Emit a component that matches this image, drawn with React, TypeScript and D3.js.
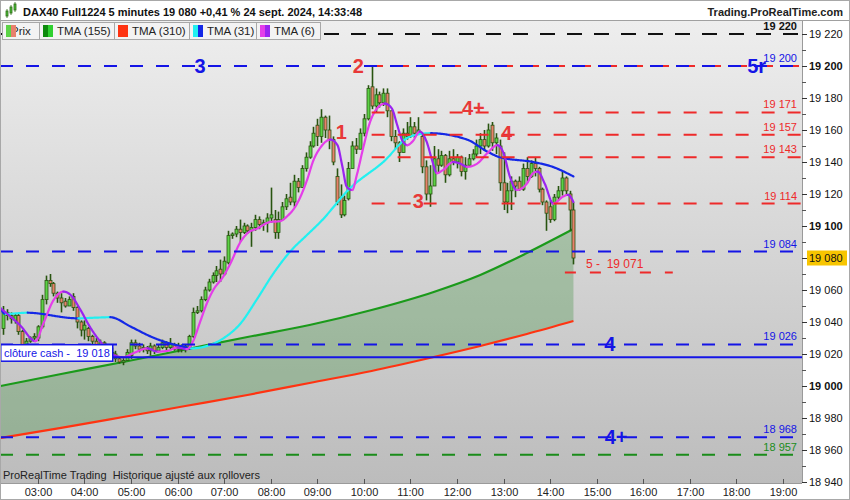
import { useRef, useEffect } from "react";
import * as d3 from "d3";

const day = "2024-09-24";
const firstBar = "02:15";
const barMinutes = 5;

// 5 minute bars: [open, high, low, close]
const bars: [number, number, number, number][] = [
  [19036, 19050, 19032, 19046], [19046, 19048, 19041, 19044], [19044, 19046, 19039, 19042], [19041, 19045, 19039, 19044],
  [19044, 19045, 19032, 19034], [19034, 19035, 19020, 19026], [19026, 19030, 19022, 19028], [19028, 19031, 19027, 19030],
  [19030, 19033, 19028, 19031], [19030, 19038, 19028, 19037], [19037, 19057, 19036, 19054], [19054, 19069, 19051, 19066],
  [19066, 19070, 19062, 19064], [19064, 19065, 19056, 19058], [19058, 19059, 19052, 19055], [19055, 19058, 19046, 19052],
  [19053, 19055, 19049, 19050], [19050, 19056, 19050, 19054], [19056, 19058, 19047, 19049], [19049, 19050, 19036, 19040],
  [19040, 19041, 19031, 19035], [19035, 19041, 19029, 19038], [19036, 19037, 19028, 19031], [19031, 19032, 19026, 19028],
  [19028, 19030, 19024, 19026], [19026, 19029, 19023, 19027], [19027, 19028, 19022, 19024], [19024, 19026, 19019, 19021],
  [19021, 19024, 19018, 19020], [19020, 19022, 19015, 19017], [19017, 19018, 19014, 19015], [19015, 19018, 19013, 19016],
  [19016, 19023, 19016, 19021], [19019, 19029, 19017, 19027], [19027, 19029, 19023, 19025], [19025, 19027, 19021, 19023],
  [19023, 19026, 19021, 19024], [19024, 19025, 19020, 19022], [19022, 19027, 19019, 19025], [19025, 19026, 19020, 19022],
  [19022, 19026, 19021, 19024], [19024, 19029, 19023, 19027], [19027, 19028, 19022, 19024], [19024, 19030, 19023, 19026],
  [19026, 19027, 19022, 19023], [19023, 19027, 19021, 19025], [19025, 19026, 19021, 19023], [19023, 19026, 19021, 19025],
  [19024, 19032, 19023, 19031], [19031, 19049, 19030, 19046], [19046, 19050, 19045, 19047], [19047, 19056, 19046, 19054],
  [19054, 19062, 19053, 19060], [19060, 19067, 19059, 19065], [19065, 19071, 19064, 19069], [19069, 19075, 19065, 19072],
  [19073, 19079, 19065, 19070], [19070, 19081, 19069, 19078], [19077, 19097, 19076, 19094], [19094, 19096, 19092, 19095],
  [19095, 19100, 19093, 19098], [19098, 19104, 19090, 19096], [19096, 19102, 19095, 19100], [19100, 19101, 19095, 19097],
  [19097, 19102, 19087, 19099], [19099, 19107, 19097, 19104], [19104, 19106, 19098, 19101], [19101, 19104, 19097, 19102],
  [19102, 19108, 19096, 19105], [19105, 19124, 19102, 19107], [19104, 19110, 19092, 19096], [19096, 19109, 19092, 19104],
  [19104, 19115, 19104, 19112], [19112, 19120, 19110, 19117], [19118, 19127, 19113, 19115], [19115, 19132, 19112, 19128],
  [19128, 19130, 19121, 19124], [19124, 19138, 19124, 19136], [19136, 19146, 19134, 19143], [19143, 19153, 19142, 19150],
  [19150, 19162, 19149, 19158], [19163, 19167, 19150, 19156], [19156, 19173, 19152, 19168], [19168, 19169, 19155, 19160],
  [19160, 19169, 19148, 19154], [19154, 19156, 19138, 19140], [19131, 19136, 19113, 19115], [19118, 19126, 19105, 19107],
  [19107, 19119, 19106, 19116], [19117, 19140, 19116, 19136], [19136, 19153, 19136, 19150], [19150, 19155, 19145, 19148],
  [19148, 19161, 19148, 19158], [19158, 19170, 19156, 19167], [19167, 19188, 19166, 19186], [19187, 19200, 19173, 19175],
  [19175, 19186, 19171, 19182], [19182, 19184, 19174, 19177], [19177, 19186, 19175, 19183], [19183, 19186, 19168, 19172],
  [19172, 19172, 19153, 19156], [19156, 19160, 19148, 19152], [19152, 19153, 19140, 19146], [19146, 19161, 19146, 19158],
  [19158, 19165, 19154, 19156], [19156, 19168, 19155, 19162], [19162, 19165, 19155, 19158], [19158, 19168, 19157, 19160],
  [19156, 19158, 19133, 19137], [19137, 19141, 19116, 19120], [19120, 19138, 19112, 19125], [19125, 19150, 19125, 19142],
  [19142, 19148, 19133, 19138], [19138, 19147, 19137, 19144], [19144, 19145, 19127, 19132], [19132, 19147, 19131, 19142],
  [19142, 19148, 19138, 19140], [19140, 19145, 19136, 19143], [19143, 19144, 19131, 19134], [19134, 19143, 19129, 19138],
  [19138, 19145, 19137, 19142], [19142, 19148, 19141, 19145], [19145, 19154, 19143, 19150], [19150, 19158, 19145, 19154],
  [19154, 19160, 19147, 19150], [19150, 19164, 19149, 19160], [19163, 19165, 19147, 19152], [19152, 19158, 19145, 19155],
  [19150, 19154, 19122, 19127], [19127, 19146, 19110, 19115], [19115, 19127, 19108, 19122], [19122, 19131, 19110, 19128],
  [19128, 19129, 19118, 19125], [19128, 19131, 19122, 19123], [19123, 19139, 19122, 19136], [19136, 19143, 19127, 19131],
  [19131, 19141, 19130, 19139], [19139, 19143, 19131, 19136], [19136, 19137, 19121, 19123], [19123, 19124, 19113, 19115],
  [19115, 19116, 19097, 19108], [19112, 19116, 19102, 19104], [19104, 19120, 19103, 19118], [19118, 19125, 19116, 19122],
  [19122, 19134, 19119, 19130], [19130, 19131, 19119, 19122], [19120, 19122, 19097, 19110], [19110, 19115, 19076, 19080],
];

const tma6: [string, number][] = [
  ["02:12", 19048.5], ["02:37", 19038], ["02:57", 19028], ["03:07", 19039], ["03:20", 19053.5], ["03:33", 19059],
  ["03:42", 19057], ["03:55", 19047.5], ["04:07", 19037], ["04:20", 19028], ["04:37", 19019.5], ["04:50", 19018],
  ["05:03", 19020.5], ["05:21", 19023.5], ["05:34", 19021.5], ["05:47", 19022], ["06:00", 19024], ["06:12", 19023],
  ["06:20", 19028], ["06:29", 19040], ["06:38", 19052], ["06:46", 19060], ["06:59", 19068.5], ["07:08", 19076.5],
  ["07:21", 19090], ["07:30", 19095.5], ["07:43", 19098.5], ["07:59", 19102.5], ["08:12", 19103], ["08:21", 19106],
  ["08:34", 19114], ["08:47", 19129], ["08:55", 19141], ["09:04", 19149], ["09:17", 19154], ["09:26", 19150.5],
  ["09:32", 19138], ["09:38", 19124.5], ["09:45", 19122.5], ["09:51", 19132], ["09:59", 19148.5], ["10:08", 19165],
  ["10:17", 19173.5], ["10:27", 19176.5], ["10:36", 19173.5], ["10:43", 19163], ["10:49", 19154], ["10:56", 19150.5],
  ["11:03", 19153], ["11:12", 19159], ["11:21", 19152.5], ["11:28", 19141], ["11:34", 19133], ["11:42", 19135],
  ["11:55", 19140], ["12:04", 19139], ["12:13", 19137], ["12:26", 19139], ["12:39", 19145.5], ["12:52", 19150.5],
  ["13:00", 19145.5], ["13:08", 19131], ["13:17", 19122.5], ["13:30", 19126.5], ["13:38", 19133], ["13:44", 19134],
  ["13:53", 19126.5], ["14:04", 19114], ["14:17", 19118.5], ["14:23", 19119.5], ["14:30", 19115],
];

const tma31: [string, number][] = [
  ["02:12", 19048.5], ["02:18", 19045], ["02:46", 19045.8], ["03:51", 19042.3], ["04:14", 19042.7], ["04:33", 19043],
  ["05:00", 19037], ["05:25", 19031], ["05:47", 19027], ["06:08", 19024.5], ["06:17", 19023.5], ["06:38", 19025],
  ["06:59", 19029.8], ["07:21", 19039], ["07:42", 19054], ["08:03", 19070], ["08:25", 19084], ["08:47", 19094.5],
  ["09:04", 19102.5], ["09:42", 19123.5], ["10:25", 19140], ["11:00", 19156], ["11:25", 19158], ["12:13", 19154],
  ["12:39", 19146.5], ["12:55", 19143], ["13:38", 19140], ["14:00", 19137.5], ["14:30", 19131],
];

const slowTimes = ["02:12", "03:30", "04:50", "06:10", "07:30", "08:50", "10:10", "11:30", "12:30", "13:30", "14:30"];
const tma155 = [19000, 19007.5, 19015, 19022.8, 19030.6, 19038.1, 19047.5, 19058.8, 19069.4, 19083.1, 19098.1];
const tma310 = [18967.5, 18973.8, 18980.6, 18987.5, 18994.4, 19001.9, 19009.4, 19018.1, 19025, 19032.5, 19040.6];

const topLevel = 19220;
const blueLevels = [19200, 19084, 19026, 18968];
const redLevels = [19171, 19157, 19143, 19114];
const greenLevels = [18957];
const cashClose = 19018;
const redLevelsFrom = "10:10";
const target = 19071;
const targetSpan = ["14:19", "16:38"];
const lastPrice = 19080;

const redMarks = [
  { text: "1", time: "09:31", price: 19158.5 },
  { text: "2", time: "09:53", price: 19200 },
  { text: "3", time: "11:10", price: 19115.5 },
  { text: "4+", time: "12:21", price: 19173.5 },
  { text: "4", time: "13:04", price: 19158 },
];
const blueMarks = [
  { text: "3", time: "06:29", price: 19200 },
  { text: "5r", time: "18:26", price: 19200 },
  { text: "4", time: "15:17", price: 19026 },
  { text: "4+", time: "15:25", price: 18968 },
];

const priceTicks = d3.range(18940, 19221, 20);
const minorTicks = d3.range(18950, 19221, 20);
const hourTicks = ["03:00", "04:00", "05:00", "06:00", "07:00", "08:00", "09:00", "10:00", "11:00",
  "12:00", "13:00", "14:00", "15:00", "16:00", "17:00", "18:00", "19:00"];
const legendNames = ["Prix", "TMA (155)", "TMA (310)", "TMA (31)", "TMA (6)"];

export default function App() {
  const svgRef = useRef<SVGSVGElement | null>(null);

  useEffect(() => {
    if (!svgRef.current) return;
    const svg = d3.select(svgRef.current);
    svg.selectAll("*").remove();

    const width = 850;
    const height = 500;
    const plot = { left: 0, right: 802, top: 20, bottom: 483 };
    const font = "'Liberation Sans', Arial, sans-serif";
    const blue = "#1414e6";
    const red = "#ee2a2a";
    const green = "#1a8c1a";

    const parseTime = d3.timeParse("%Y-%m-%d %H:%M");
    const at = (hm: string) => parseTime(`${day} ${hm}`)!;
    const barTime = (i: number) => d3.timeMinute.offset(at(firstBar), i * barMinutes);
    const fmt = d3.formatLocale({ decimal: ",", thousands: " ", grouping: [3], currency: ["", ""] }).format(",d");

    const x = d3.scaleTime().domain([at("12:00"), at("19:00")]).range([457, 783]);
    const y = d3.scaleLinear().domain([18940, 19200]).range([482, 66]);

    const defs = svg.append("defs");
    const grad = defs.append("linearGradient").attr("id", "bg").attr("x1", 0).attr("y1", 0).attr("x2", 0).attr("y2", 1);
    grad.append("stop").attr("offset", "0%").attr("stop-color", "#eeeeee");
    grad.append("stop").attr("offset", "100%").attr("stop-color", "#bcbcbc");
    defs.append("clipPath").attr("id", "plotClip").append("rect")
      .attr("x", plot.left).attr("y", plot.top)
      .attr("width", plot.right - plot.left).attr("height", plot.bottom - plot.top);

    svg.append("rect").attr("width", width).attr("height", height).attr("fill", "#fff");
    svg.append("rect").attr("x", plot.left).attr("y", plot.top)
      .attr("width", plot.right - plot.left).attr("height", plot.bottom - plot.top).attr("fill", "url(#bg)");

    const g = svg.append("g").attr("clip-path", "url(#plotClip)");

    // cloud between the two slow averages
    const slow = slowTimes.map((t, i) => ({ t: at(t), a: tma155[i], b: tma310[i] }));
    g.append("path").datum(slow)
      .attr("fill", "#3d8f3d").attr("fill-opacity", 0.32)
      .attr("d", d3.area<any>().x((d) => x(d.t)).y0((d) => y(d.b)).y1((d) => y(d.a)).curve(d3.curveMonotoneX) as any);

    const plainLine = d3.line<any>().x((d) => x(d.t)).y((d) => y(d.v)).curve(d3.curveMonotoneX);
    g.append("path").datum(slow.map((d) => ({ t: d.t, v: d.b })))
      .attr("fill", "none").attr("stroke", "#ff3311").attr("stroke-width", 2.2).attr("d", plainLine as any);
    g.append("path").datum(slow.map((d) => ({ t: d.t, v: d.a })))
      .attr("fill", "none").attr("stroke", "#1b9a1b").attr("stroke-width", 2.2).attr("d", plainLine as any);

    // candles
    const edge = "#285410";
    const cg = g.append("g");
    bars.forEach(([o, h, l, c], i) => {
      const cx = Math.round(x(barTime(i))) + 0.5;
      cg.append("line").attr("x1", cx).attr("x2", cx).attr("y1", y(h)).attr("y2", y(l))
        .attr("stroke", edge).attr("stroke-width", 1.6);
      const top = y(Math.max(o, c));
      const bot = y(Math.min(o, c));
      cg.append("rect").attr("x", cx - 1.5).attr("y", top).attr("width", 3).attr("height", Math.max(1, bot - top))
        .attr("fill", c >= o ? "#5cd246" : "#e8806c").attr("stroke", edge).attr("stroke-width", 0.8);
    });

    // averages coloured by direction
    const twoTone = (pts: [string, number][], up: string, down: string, w: number) => {
      const p = g.append("path").datum(pts.map(([t, v]) => ({ t: at(t), v }))).attr("d", plainLine as any).attr("fill", "none");
      const node = p.node() as SVGPathElement;
      const len = node.getTotalLength();
      const samples = d3.range(0, len, 1).concat([len]).map((l) => node.getPointAtLength(l));
      p.remove();
      const seg = d3.line<DOMPoint>().x((d) => d.x).y((d) => d.y);
      let run: DOMPoint[] = [samples[0]];
      let dir: string | null = null;
      const flush = () => {
        if (run.length > 1) {
          g.append("path").attr("d", seg(run)).attr("fill", "none").attr("stroke", dir === "down" ? down : up)
            .attr("stroke-width", w).attr("stroke-linecap", "round");
        }
      };
      for (let i = 1; i < samples.length; i++) {
        const dy = samples[i].y - samples[i - 1].y;
        const d = dy < -0.01 ? "up" : dy > 0.01 ? "down" : dir;
        if (dir && d && d !== dir) {
          flush();
          run = [samples[i - 1]];
        }
        if (d) dir = d;
        run.push(samples[i]);
      }
      flush();
    };
    twoTone(tma31, "#22f0f0", "#1428e6", 2.2);
    twoTone(tma6, "#e43ee8", "#9a24f0", 2.2);

    // horizontal levels
    const hline = (price: number, color: string, dash: string, from: number, w = 2, to = plot.right) => {
      g.append("line").attr("x1", from).attr("x2", to).attr("y1", y(price)).attr("y2", y(price))
        .attr("stroke", color).attr("stroke-width", w).attr("stroke-dasharray", dash);
    };
    const redFrom = x(at(redLevelsFrom));
    const redOnBlue = Math.floor((redFrom - 6) / 26) * 26 + 6;
    hline(topLevel, "#111", "15,12", plot.left);
    hline(blueLevels[0], red, "13,13", redOnBlue);
    blueLevels.forEach((p) => hline(p, blue, "13,13", plot.left));
    redLevels.forEach((p) => hline(p, red, "13,13", redFrom));
    greenLevels.forEach((p) => hline(p, green, "13,13", plot.left));
    hline(cashClose, blue, "none", plot.left);
    hline(target, red, "11,14", x(at(targetSpan[0])), 2, x(at(targetSpan[1])));

    // level values on the right of the plot
    const levelText = (price: number, color: string, bold = false) => {
      svg.append("text").attr("x", 797).attr("y", y(price) - 4).attr("text-anchor", "end")
        .attr("font-family", font).attr("font-size", 11).attr("font-weight", bold ? "bold" : "normal")
        .attr("fill", color).text(fmt(price));
    };
    levelText(topLevel, "#111", true);
    blueLevels.forEach((p) => levelText(p, blue));
    redLevels.forEach((p) => levelText(p, red));
    greenLevels.forEach((p) => levelText(p, green));

    svg.append("text").attr("x", 586).attr("y", y(target) - 4).attr("font-family", font).attr("font-size", 12)
      .attr("fill", red).attr("xml:space", "preserve").text(`5 -  ${fmt(target)}`);

    // wave marks
    const mark = (m: { text: string; time: string; price: number }, color: string) => {
      svg.append("text").attr("x", x(at(m.time))).attr("y", y(m.price) + 7).attr("text-anchor", "middle")
        .attr("font-family", font).attr("font-size", 20).attr("font-weight", "bold").attr("fill", color).text(m.text);
    };
    redMarks.forEach((m) => mark(m, "#e83838"));
    blueMarks.forEach((m) => mark(m, blue));

    // cash close box
    svg.append("rect").attr("x", 0.75).attr("y", y(cashClose) - 12.5).attr("width", 112).attr("height", 16.5)
      .attr("fill", "#fff").attr("stroke", blue).attr("stroke-width", 1.5);
    svg.append("text").attr("x", 4).attr("y", y(cashClose) - 0.5).attr("font-family", font).attr("font-size", 11)
      .attr("fill", blue).attr("xml:space", "preserve").text(`clôture cash -  ${fmt(cashClose)}`);

    // right axis
    svg.append("line").attr("x1", plot.right + 0.5).attr("x2", plot.right + 0.5).attr("y1", plot.top).attr("y2", plot.bottom)
      .attr("stroke", "#9a9a9a");
    minorTicks.forEach((p) => {
      svg.append("line").attr("x1", plot.right).attr("x2", plot.right + 4).attr("y1", y(p) + 0.5).attr("y2", y(p) + 0.5)
        .attr("stroke", "#555");
    });
    priceTicks.forEach((p) => {
      svg.append("line").attr("x1", plot.right).attr("x2", plot.right + 5).attr("y1", y(p) + 0.5).attr("y2", y(p) + 0.5)
        .attr("stroke", "#333");
      svg.append("text").attr("x", plot.right + 7).attr("y", y(p) + 4).attr("font-family", font).attr("font-size", 11)
        .attr("font-weight", p % 100 === 0 ? "bold" : "normal").attr("fill", "#111").text(fmt(p));
    });
    svg.append("rect").attr("x", plot.right + 5).attr("y", y(lastPrice) - 7.5).attr("width", 40).attr("height", 15)
      .attr("fill", "#f7c500");
    svg.append("text").attr("x", plot.right + 7).attr("y", y(lastPrice) + 4).attr("font-family", font).attr("font-size", 11)
      .attr("fill", "#111").text(fmt(lastPrice));

    // bottom axis
    svg.append("line").attr("x1", 0).attr("x2", plot.right).attr("y1", plot.bottom + 0.5).attr("y2", plot.bottom + 0.5)
      .attr("stroke", "#9a9a9a");
    hourTicks.forEach((h) => {
      const hx = Math.round(x(at(h))) + 0.5;
      svg.append("line").attr("x1", hx).attr("x2", hx).attr("y1", plot.bottom - 4).attr("y2", plot.bottom + 1).attr("stroke", "#555");
      svg.append("text").attr("x", hx).attr("y", 496).attr("text-anchor", "middle").attr("font-family", font)
        .attr("font-size", 11).attr("fill", "#222").text(h);
    });
    svg.append("text").attr("x", 3).attr("y", 479).attr("font-family", font).attr("font-size", 11).attr("fill", "#222")
      .attr("xml:space", "preserve").text("ProRealTime Trading  Historique ajusté aux rollovers");

    // header
    svg.append("line").attr("x1", 0).attr("x2", width).attr("y1", plot.top + 0.5).attr("y2", plot.top + 0.5).attr("stroke", "#a0a0a0");
    const icon = svg.append("g").attr("fill", "#4cc23a").attr("stroke", "#2d6a14").attr("stroke-width", 0.8);
    [[6, 11, 5], [10, 7, 6], [14, 4, 6]].forEach(([ix, iy, ih]) => {
      icon.append("line").attr("x1", ix + 1).attr("x2", ix + 1).attr("y1", iy - 2).attr("y2", iy + ih + 2);
      icon.append("rect").attr("x", ix).attr("y", iy).attr("width", 2).attr("height", ih);
    });
    svg.append("text").attr("x", 23).attr("y", 16).attr("font-family", font).attr("font-size", 11).attr("font-weight", "bold")
      .attr("fill", "#111").text("DAX40 Full1224 5 minutes 19 080 +0,41 % 24 sept. 2024, 14:33:48");
    svg.append("text").attr("x", 843).attr("y", 16).attr("text-anchor", "end").attr("font-family", font).attr("font-size", 11)
      .attr("font-weight", "bold").attr("fill", "#222").text("Trading.ProRealTime.com");

    // legend
    const boxes = [
      { x0: 2, x1: 39, c: ["#5cd246", "#e8806c"] },
      { x0: 39, x1: 114, c: ["#0c8a0c", "#2fd02f"] },
      { x0: 114, x1: 189, c: ["#ff3311", "#ff3311"] },
      { x0: 189, x1: 256, c: ["#22f0f0", "#1428e6"] },
      { x0: 256, x1: 320, c: ["#e43ee8", "#9a24f0"] },
    ];
    legendNames.forEach((name, i) => {
      const b = boxes[i];
      svg.append("rect").attr("x", b.x0 + 0.5).attr("y", 22.5).attr("width", b.x1 - b.x0).attr("height", 17)
        .attr("fill", "#f3f3f3").attr("stroke", "#a8a8a8");
      svg.append("text").attr("x", b.x0 + (i === 0 ? 9 : 18)).attr("y", 35).attr("font-family", font).attr("font-size", 11.5)
        .attr("fill", "#222").text(name);
      svg.append("rect").attr("x", b.x0 + 4).attr("y", 25).attr("width", 5).attr("height", 12).attr("fill", b.c[0]);
      svg.append("rect").attr("x", b.x0 + 9).attr("y", 25).attr("width", 5).attr("height", 12).attr("fill", b.c[1]);
    });

    svg.append("rect").attr("x", 0.5).attr("y", 0.5).attr("width", width - 1).attr("height", height - 1)
      .attr("fill", "none").attr("stroke", "#a8a8a8");
  }, []);

  return (
    <div>
      <style>{"body{margin:0}"}</style>
      <svg ref={svgRef} width={850} height={500} viewBox="0 0 850 500" style={{ display: "block" }}></svg>
    </div>
  );
}
